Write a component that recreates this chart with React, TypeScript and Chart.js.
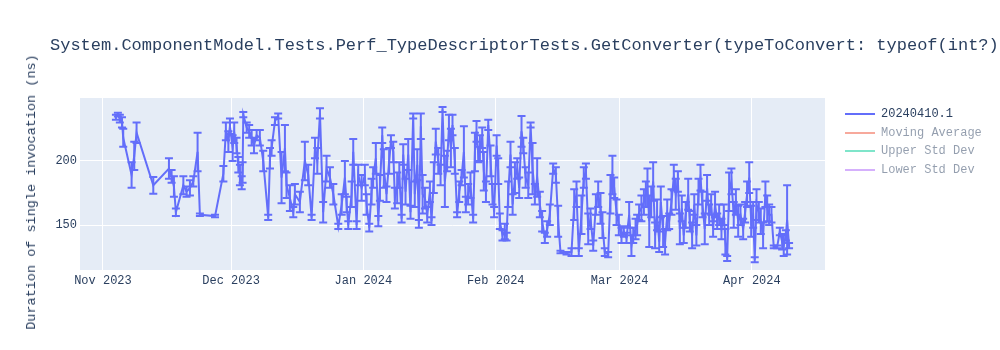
import React, { useEffect, useRef } from "react";
import { Chart, registerables } from "chart.js";

Chart.register(...registerables);

const TITLE =
  "System.ComponentModel.Tests.Perf_TypeDescriptorTests.GetConverter(typeToConvert: typeof(int?))";
const Y_TITLE = "Duration of single invocation (ns)";

const SERIES_NAME = "20240410.1";
const HIDDEN_SERIES = ["Moving Average", "Upper Std Dev", "Lower Std Dev"];
const HIDDEN_COLORS = ["#EF553B", "#00cc96", "#ab63fa"];
const MAIN_COLOR = "#636efa";

const monthTickDates = ["2023-11-01", "2023-12-01", "2024-01-01", "2024-02-01", "2024-03-01", "2024-04-01"];
const monthTickLabels = ["Nov 2023", "Dec 2023", "Jan 2024", "Feb 2024", "Mar 2024", "Apr 2024"];
const yTickValues = [150, 200];

const X_MIN = "2023-10-26 15:00";
const X_MAX = "2024-04-18 03:00";
const Y_MIN = 115;
const Y_MAX = 249;

// Run timestamps
const timestamps = [
  // November
  "2023-11-04 01:00", "2023-11-04 12:00", "2023-11-04 23:00", "2023-11-05 11:00", "2023-11-05 18:00",
  "2023-11-07 17:00", "2023-11-08 08:00", "2023-11-08 21:00", "2023-11-12 19:00", "2023-11-16 11:00",
  "2023-11-17 02:00", "2023-11-17 15:00", "2023-11-18 02:00", "2023-11-19 20:00", "2023-11-20 14:00",
  "2023-11-21 09:00", "2023-11-22 04:00", "2023-11-23 04:00", "2023-11-23 17:00", "2023-11-27 06:00",
  "2023-11-29 05:00", "2023-11-29 19:00", "2023-11-30 09:00", "2023-11-30 18:00",
  // December
  "2023-12-01 09:00", "2023-12-01 18:00", "2023-12-02 07:00", "2023-12-02 17:00", "2023-12-03 02:00",
  "2023-12-03 12:00", "2023-12-03 17:00", "2023-12-03 21:00", "2023-12-04 16:00", "2023-12-05 06:00",
  "2023-12-05 20:00", "2023-12-06 09:00", "2023-12-07 00:00", "2023-12-07 18:00", "2023-12-08 13:00",
  "2023-12-09 17:00", "2023-12-10 03:00", "2023-12-10 12:00", "2023-12-11 07:00", "2023-12-12 01:00",
  "2023-12-12 20:00", "2023-12-13 15:00", "2023-12-14 00:00", "2023-12-14 19:00", "2023-12-15 14:00",
  "2023-12-15 23:00", "2023-12-17 03:00", "2023-12-18 07:00", "2023-12-19 02:00", "2023-12-19 21:00",
  "2023-12-20 16:00", "2023-12-21 05:00", "2023-12-21 20:00", "2023-12-22 14:00", "2023-12-23 09:00",
  "2023-12-24 04:00", "2023-12-24 23:00", "2023-12-26 03:00", "2023-12-26 22:00", "2023-12-27 16:00",
  "2023-12-28 02:00", "2023-12-28 11:00", "2023-12-29 06:00", "2023-12-29 15:00", "2023-12-30 10:00",
  "2023-12-30 19:00", "2023-12-31 14:00",
  // January
  "2024-01-01 08:00", "2024-01-01 18:00", "2024-01-02 09:00", "2024-01-02 22:00", "2024-01-03 07:00",
  "2024-01-03 22:00", "2024-01-04 12:00", "2024-01-04 21:00", "2024-01-05 10:00", "2024-01-05 19:00",
  "2024-01-06 10:00", "2024-01-07 01:00", "2024-01-07 11:00", "2024-01-08 00:00", "2024-01-08 09:00",
  "2024-01-08 22:00", "2024-01-09 10:00", "2024-01-09 23:00", "2024-01-10 08:00", "2024-01-10 21:00",
  "2024-01-11 12:00", "2024-01-12 01:00", "2024-01-12 16:00", "2024-01-13 01:00", "2024-01-13 15:00",
  "2024-01-14 00:00", "2024-01-14 11:00", "2024-01-14 21:00", "2024-01-15 10:00", "2024-01-15 23:00",
  "2024-01-16 14:00", "2024-01-16 23:00", "2024-01-17 12:00", "2024-01-17 23:00", "2024-01-18 13:00",
  "2024-01-19 02:00", "2024-01-19 13:00", "2024-01-20 02:00", "2024-01-20 15:00", "2024-01-21 01:00",
  "2024-01-21 12:00", "2024-01-21 21:00", "2024-01-22 10:00", "2024-01-22 23:00", "2024-01-23 11:00",
  "2024-01-24 00:00", "2024-01-24 13:00", "2024-01-25 00:00", "2024-01-25 13:00", "2024-01-26 02:00",
  "2024-01-26 17:00", "2024-01-27 03:00", "2024-01-27 12:00", "2024-01-27 22:00", "2024-01-28 07:00",
  "2024-01-28 20:00", "2024-01-29 05:00", "2024-01-29 17:00", "2024-01-30 06:00", "2024-01-30 19:00",
  "2024-01-31 06:00", "2024-01-31 15:00",
  // February
  "2024-02-01 05:00", "2024-02-01 14:00", "2024-02-01 23:00", "2024-02-02 14:00", "2024-02-03 03:00",
  "2024-02-03 13:00", "2024-02-03 22:00", "2024-02-04 11:00", "2024-02-04 23:00", "2024-02-05 12:00",
  "2024-02-06 01:00", "2024-02-06 12:00", "2024-02-07 01:00", "2024-02-07 11:00", "2024-02-08 00:00",
  "2024-02-08 15:00", "2024-02-09 04:00", "2024-02-09 15:00", "2024-02-10 04:00", "2024-02-10 17:00",
  "2024-02-11 08:00", "2024-02-11 21:00", "2024-02-12 12:00", "2024-02-13 01:00", "2024-02-13 16:00",
  "2024-02-14 11:00", "2024-02-15 02:00", "2024-02-15 15:00", "2024-02-16 04:00", "2024-02-17 14:00",
  "2024-02-18 18:00", "2024-02-19 09:00", "2024-02-19 22:00", "2024-02-20 11:00", "2024-02-21 02:00",
  "2024-02-21 15:00", "2024-02-22 03:00", "2024-02-22 16:00", "2024-02-23 05:00", "2024-02-23 20:00",
  "2024-02-24 11:00", "2024-02-25 00:00", "2024-02-25 13:00", "2024-02-26 00:00", "2024-02-26 13:00",
  "2024-02-27 08:00", "2024-02-27 21:00", "2024-02-28 08:00", "2024-02-28 18:00", "2024-02-29 07:00",
  "2024-02-29 20:00",
  // March
  "2024-03-01 11:00", "2024-03-02 00:00", "2024-03-02 15:00", "2024-03-03 06:00", "2024-03-03 19:00",
  "2024-03-04 05:00", "2024-03-04 18:00", "2024-03-05 03:00", "2024-03-05 14:00", "2024-03-06 03:00",
  "2024-03-06 17:00", "2024-03-07 04:00", "2024-03-07 13:00", "2024-03-07 23:00", "2024-03-08 10:00",
  "2024-03-08 21:00", "2024-03-09 08:00", "2024-03-09 19:00", "2024-03-10 07:00", "2024-03-10 16:00",
  "2024-03-11 05:00", "2024-03-11 16:00", "2024-03-12 04:00", "2024-03-12 15:00", "2024-03-13 04:00",
  "2024-03-13 17:00", "2024-03-14 04:00", "2024-03-14 16:00", "2024-03-15 03:00", "2024-03-15 14:00",
  "2024-03-16 01:00", "2024-03-16 12:00", "2024-03-17 02:00", "2024-03-17 11:00", "2024-03-18 00:00",
  "2024-03-18 12:00", "2024-03-19 00:00", "2024-03-19 12:00", "2024-03-19 23:00", "2024-03-20 10:00",
  "2024-03-20 23:00", "2024-03-21 12:00", "2024-03-22 00:00", "2024-03-22 11:00", "2024-03-22 22:00",
  "2024-03-23 09:00", "2024-03-23 21:00", "2024-03-24 08:00", "2024-03-24 21:00", "2024-03-25 10:00",
  "2024-03-25 19:00", "2024-03-26 05:00", "2024-03-26 16:00", "2024-03-27 05:00", "2024-03-27 18:00",
  "2024-03-28 06:00", "2024-03-28 19:00", "2024-03-29 08:00", "2024-03-29 23:00", "2024-03-30 10:00",
  "2024-03-30 21:00", "2024-03-31 09:00", "2024-03-31 20:00",
  // April
  "2024-04-01 07:00", "2024-04-01 16:00", "2024-04-02 02:00", "2024-04-02 15:00", "2024-04-03 02:00",
  "2024-04-03 15:00", "2024-04-04 04:00", "2024-04-04 14:00", "2024-04-05 01:00", "2024-04-05 14:00",
  "2024-04-06 03:00", "2024-04-06 22:00", "2024-04-07 13:00", "2024-04-08 02:00", "2024-04-08 11:00",
  "2024-04-08 23:00", "2024-04-09 06:00", "2024-04-09 17:00",
];

// Mean duration (ns)
const meanNs = [
  // November
  234, 236, 233, 230, 218, 189, 204, 222, 181, 194,
  188, 180, 160, 181, 176, 179, 184, 207, 158, 157,
  190, 223, 215, 227,
  // December
  210, 222, 212, 197, 189, 183, 191, 236, 226, 223,
  218, 212, 220, 218, 200, 156, 202, 210, 231, 235,
  187, 210, 181, 171, 160, 174, 168, 200, 189, 156,
  210, 200, 237, 160, 194, 187, 174, 149, 166, 187,
  166, 150, 174, 207, 150, 189, 179,
  // January
  189, 166, 148, 176, 187, 202, 153, 179, 220, 194,
  174, 200, 215, 207, 171, 179, 189, 155, 205, 176,
  205, 160, 235, 174, 197, 151, 227, 174, 171, 158,
  176, 153, 187, 215, 200, 189, 240, 184, 200, 226,
  210, 228, 200, 158, 176, 187, 207, 166, 174, 181,
  155, 207, 223, 205, 210, 218, 192, 176, 228, 200,
  174, 160,
  // February
  212, 192, 153, 142, 145, 141, 174, 205, 166, 187,
  194, 179, 223, 212, 187, 181, 228, 194, 174, 187,
  166, 153, 140, 147, 158, 194, 189, 153, 129, 128,
  129, 166, 174, 129, 158, 187, 192, 147, 155, 134,
  166, 174, 163, 150, 129, 127, 174, 189, 179, 160,
  150,
  // March
  142, 145, 140, 158, 134, 142, 147, 150, 160, 163,
  168, 174, 179, 153, 168, 184, 142, 158, 137, 168,
  145, 137, 158, 153, 168, 187, 174, 184, 147, 163,
  142, 158, 174, 153, 142, 166, 142, 176, 187, 166,
  147, 179, 158, 166, 147, 166, 153, 158, 147, 158,
  137, 124, 176, 184, 158, 168, 153, 158, 147, 160,
  174, 187, 153,
  // April
  158, 123, 166, 160, 153, 142, 174, 163, 158, 158,
  133, 133, 145, 137, 134, 142, 154, 134,
];

// Error bar half-size (ns)
const errNs = [
  // November
  2, 1.5, 3, 4, 7, 10, 11, 8, 6.5, 8,
  5, 8, 3, 7, 4, 6, 4, 15, 1, 1,
  6, 7, 8, 6,
  // December
  10, 8, 6, 6, 8, 5, 8, 2, 4, 5,
  6, 6, 4, 6, 8, 2, 8, 6, 3, 2,
  20, 18, 10, 10, 4, 8, 8, 15, 8, 2,
  8, 10, 4, 8, 10, 8, 8, 2, 8, 13,
  6, 3, 10, 10, 3, 8, 10,
  // January
  8, 8, 3, 10, 8, 12, 4, 10, 6, 15,
  6, 10, 5, 8, 8, 12, 10, 3, 8, 10,
  12, 5, 2, 10, 12, 3, 10, 15, 8, 6,
  8, 3, 12, 10, 10, 8, 2, 20, 8, 10,
  15, 8, 10, 2, 8, 6, 20, 6, 8, 10,
  3, 15, 8, 6, 10, 8, 15, 8, 4, 12,
  8, 4,
  // February
  8, 10, 6, 4, 6, 3, 10, 10, 8, 12,
  8, 8, 12, 6, 8, 10, 2, 20, 8, 15,
  10, 8, 4, 6, 8, 4, 6, 12, 1, 1,
  3, 12, 10, 3, 15, 8, 6, 12, 8, 4,
  8, 10, 12, 10, 3, 2, 15, 15, 8, 10,
  8,
  // March
  6, 4, 4, 10, 8, 6, 8, 8, 6, 10,
  10, 10, 15, 20, 12, 15, 10, 12, 8, 12,
  12, 10, 12, 6, 10, 10, 12, 8, 12, 10,
  6, 10, 12, 8, 10, 8, 8, 10, 10, 10,
  12, 10, 8, 8, 6, 10, 6, 8, 8, 8,
  10, 2, 15, 10, 10, 10, 12, 8, 8, 8,
  10, 12, 12,
  // April
  10, 2, 12, 8, 10, 10, 10, 10, 8, 6,
  1, 1, 3, 6, 8, 4, 27, 2,
];

const FONT = "'Liberation Mono', 'DejaVu Sans Mono', monospace";
const TEXT_COLOR = "#2a3f5f";

function toMs(s: string): number {
  const [datePart, timePart = "00:00"] = s.split(" ");
  const [Y, M, D] = datePart.split("-").map(Number);
  const [h, m] = timePart.split(":").map(Number);
  return Date.UTC(Y, M - 1, D, h, m);
}

const plotBgPlugin = {
  id: "plotBg",
  beforeDraw(chart: any) {
    const { ctx, chartArea } = chart;
    ctx.save();
    ctx.fillStyle = "#e5ecf6";
    ctx.fillRect(chartArea.left, chartArea.top, chartArea.right - chartArea.left, chartArea.bottom - chartArea.top);
    ctx.restore();
  },
};

const errorBarPlugin = {
  id: "errorBars",
  afterDatasetsDraw(chart: any) {
    const { ctx, chartArea } = chart;
    const xs = chart.scales.x;
    const ys = chart.scales.y;
    ctx.save();
    ctx.beginPath();
    ctx.rect(chartArea.left, chartArea.top, chartArea.right - chartArea.left, chartArea.bottom - chartArea.top);
    ctx.clip();
    ctx.strokeStyle = MAIN_COLOR;
    ctx.lineWidth = 2;
    const cap = 4;
    for (let i = 0; i < timestamps.length; i++) {
      const px = xs.getPixelForValue(toMs(timestamps[i]));
      const top = ys.getPixelForValue(meanNs[i] + errNs[i]);
      const bot = ys.getPixelForValue(meanNs[i] - errNs[i]);
      ctx.beginPath();
      ctx.moveTo(px, top);
      ctx.lineTo(px, bot);
      ctx.moveTo(px - cap, top);
      ctx.lineTo(px + cap, top);
      ctx.moveTo(px - cap, bot);
      ctx.lineTo(px + cap, bot);
      ctx.stroke();
    }
    ctx.restore();
  },
};

export default function App() {
  const canvasRef = useRef<HTMLCanvasElement | null>(null);

  useEffect(() => {
    document.body.style.margin = "0";
    const canvas = canvasRef.current;
    if (!canvas) return;
    const tickValues = monthTickDates.map((d) => toMs(d));
    const chart = new Chart(canvas, {
      type: "line",
      data: {
        datasets: [
          {
            label: SERIES_NAME,
            data: timestamps.map((t, i) => ({ x: toMs(t), y: meanNs[i] })),
            borderColor: MAIN_COLOR,
            backgroundColor: MAIN_COLOR,
            borderWidth: 2,
            pointRadius: 0,
            tension: 0,
            fill: false,
          },
        ],
      },
      options: {
        animation: false,
        responsive: false,
        maintainAspectRatio: false,
        layout: { padding: { left: 0, right: 175, top: 98, bottom: 0 } },
        plugins: {
          legend: { display: false },
          tooltip: { enabled: false },
          title: { display: false },
        },
        scales: {
          x: {
            type: "linear",
            min: toMs(X_MIN),
            max: toMs(X_MAX),
            border: { display: false },
            grid: { color: "#ffffff", lineWidth: 1, drawTicks: false },
            afterBuildTicks: (scale: any) => {
              scale.ticks = tickValues.map((v) => ({ value: v }));
            },
            afterFit: (scale: any) => {
              scale.height = 80;
            },
            ticks: {
              autoSkip: false,
              maxRotation: 0,
              padding: 4,
              color: TEXT_COLOR,
              font: { family: FONT, size: 12 },
              callback: (value: any) => {
                const idx = tickValues.indexOf(Number(value));
                return idx >= 0 ? monthTickLabels[idx] : "";
              },
            },
          },
          y: {
            type: "linear",
            min: Y_MIN,
            max: Y_MAX,
            border: { display: false },
            grid: { color: "#ffffff", lineWidth: 1, drawTicks: false },
            afterBuildTicks: (scale: any) => {
              scale.ticks = yTickValues.map((v) => ({ value: v }));
            },
            afterFit: (scale: any) => {
              scale.width = 80;
            },
            ticks: {
              padding: 3,
              color: TEXT_COLOR,
              font: { family: FONT, size: 12 },
            },
            title: { display: false },
          },
        },
      },
      plugins: [plotBgPlugin, errorBarPlugin],
    });
    return () => chart.destroy();
  }, []);

  const legendRows = [
    { name: SERIES_NAME, color: MAIN_COLOR, hidden: false },
    ...HIDDEN_SERIES.map((n, i) => ({ name: n, color: HIDDEN_COLORS[i], hidden: true })),
  ];

  return (
    <div style={{ position: "relative", width: 1000, height: 350, overflow: "hidden", background: "#fff" }}>
      <canvas ref={canvasRef} width={1000} height={350} style={{ position: "absolute", left: 0, top: 0 }} />
      <div
        style={{
          position: "absolute",
          left: 50,
          top: 36,
          whiteSpace: "nowrap",
          fontFamily: FONT,
          fontSize: 17,
          lineHeight: "20px",
          color: TEXT_COLOR,
        }}
      >
        {TITLE}
      </div>
      <div
        style={{
          position: "absolute",
          left: 32,
          top: 192,
          transform: "translate(-50%, -50%) rotate(-90deg)",
          whiteSpace: "nowrap",
          fontFamily: FONT,
          fontSize: 13.5,
          lineHeight: "16px",
          color: TEXT_COLOR,
        }}
      >
        {Y_TITLE}
      </div>
      {legendRows.map((row, i) => (
        <div
          key={row.name}
          style={{
            position: "absolute",
            left: 845,
            top: 105 + i * 18.6,
            height: 18,
            display: "flex",
            alignItems: "center",
            opacity: row.hidden ? 0.5 : 1,
            fontFamily: FONT,
            fontSize: 12,
            color: TEXT_COLOR,
            whiteSpace: "nowrap",
          }}
        >
          <span style={{ display: "inline-block", width: 30, height: 2, background: row.color, marginRight: 6 }} />
          <span>{row.name}</span>
        </div>
      ))}
    </div>
  );
}
